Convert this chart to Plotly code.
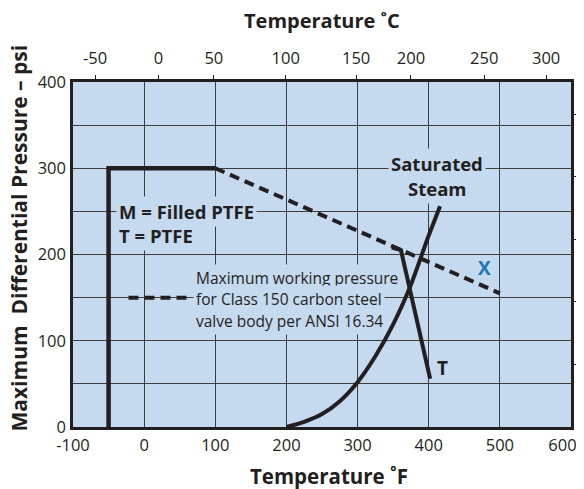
import plotly.graph_objects as go

# ---- data ----
temp_f_ticks = [-100, 0, 100, 200, 300, 400, 500, 600]
temp_f_labels = ["-100", "0", "100", "200", "300", "400", "500", "600\u00a0\u00a0\u00a0\u00a0"]
psi_ticks = [0, 100, 200, 300, 400]
c_tick_labels = ["-50", "0", "50", "100", "150", "200", "250", "300"]
c_tick_pos_f = [-69, 20, 98, 199, 298, 375, 478, 565]
bar_ticks = [5, 10, 15, 20, 25]

m_f = [-50, -50, 100]
m_psi = [0, 300, 300]
carbon_f = [100, 500]
carbon_psi = [300, 155]
t_f = [348, 361, 402]
t_psi = [208, 205, 56]
steam_f = [200, 225, 250, 275, 300, 325, 350, 375, 400, 416]
steam_psi = [0, 6, 15, 30, 52, 82, 119, 165, 222, 256]

INK = "#231f20"
BG = "#c5d9ef"
FONT = "Open Sans"
PSI_PER_BAR = 14.5038

fig = go.Figure()
fig.add_trace(go.Scatter(x=m_f, y=m_psi, mode="lines",
                         line=dict(color=INK, width=4.5), showlegend=False))
fig.add_trace(go.Scatter(x=carbon_f, y=carbon_psi, mode="lines",
                         line=dict(color=INK, width=4, dash="10px,6px"), showlegend=False))
fig.add_trace(go.Scatter(x=steam_f, y=steam_psi, mode="lines", line_shape="spline",
                         line=dict(color=INK, width=4, smoothing=0.6), showlegend=False))
fig.add_trace(go.Scatter(x=t_f, y=t_psi, mode="lines",
                         line=dict(color=INK, width=4), showlegend=False))
# invisible trace to bind secondary axes
fig.add_trace(go.Scatter(x=[0], y=[0], xaxis="x2", yaxis="y2", mode="markers",
                         marker=dict(opacity=0), showlegend=False, hoverinfo="skip"))

axis_common = dict(showline=True, linecolor=INK, linewidth=2.5, zeroline=False,
                   automargin=False)
TICKSIZE = 16.5
fig.update_layout(
    width=576, height=481,
    margin=dict(l=65, r=13, t=74, b=62),
    paper_bgcolor="white", plot_bgcolor=BG,
    font=dict(family=FONT, color=INK, size=15),
    xaxis=dict(range=[-100, 600], tickvals=temp_f_ticks, ticktext=temp_f_labels,
               ticks="", mirror=True, ticklabeloverflow="allow",
               showgrid=True, gridcolor="#3d3d3d", gridwidth=1,
               tickfont=dict(size=TICKSIZE), ticklabelstandoff=1, **axis_common),
    yaxis=dict(range=[0, 400], tickvals=psi_ticks, ticks="", mirror=True,
               ticklabeloverflow="allow",
               showgrid=True, gridcolor="#3d3d3d", gridwidth=1,
               minor=dict(dtick=50, showgrid=True, gridcolor="#3d3d3d", gridwidth=1),
               tickfont=dict(size=TICKSIZE), ticklabelstandoff=1, **axis_common),
    xaxis2=dict(overlaying="x", side="top", range=[-100, 600], tickvals=c_tick_pos_f,
                ticktext=c_tick_labels, ticks="outside", ticklen=6, tickwidth=1.2,
                tickcolor=INK, showgrid=False, zeroline=False, showline=False,
                ticklabeloverflow="allow",
                automargin=False, tickfont=dict(size=TICKSIZE), ticklabelstandoff=4),
    yaxis2=dict(overlaying="y", side="right", range=[0, 400 / PSI_PER_BAR],
                tickvals=bar_ticks, ticktext=[str(v) for v in bar_ticks],
                ticks="outside", ticklen=6, tickwidth=1.2, tickcolor=INK,
                showgrid=False, zeroline=False, showline=False, automargin=False,
                ticklabeloverflow="allow",
                tickfont=dict(size=TICKSIZE), ticklabelstandoff=2),
)

ann = []
# axis titles
ann.append(dict(text="<b>Temperature ˚F</b>", xref="paper", yref="paper", x=0.5, y=0,
                xshift=7, yshift=-49, showarrow=False, font=dict(size=20.5), yanchor="middle"))
ann.append(dict(text="<b>Temperature ˚C</b>", xref="paper", yref="paper", x=0.5, y=1,
                yshift=62, showarrow=False, font=dict(size=20), yanchor="middle"))
ann.append(dict(text="<b>Maximum  Differential Pressure – psi</b>", xref="paper", yref="paper",
                x=0, y=0.5, xshift=-55, yshift=16, textangle=-90, showarrow=False,
                font=dict(size=21), xanchor="center", yanchor="middle"))

def label(text, x, y, size, bold=True, anchor="center", color=INK, bg=True):
    t = f"<b>{text}</b>" if bold else text
    d = dict(text=t, x=x, y=y, xref="x", yref="y", showarrow=False,
             font=dict(size=size, color=color), xanchor=anchor, yanchor="middle")
    if bg:
        d.update(bgcolor=BG, borderpad=2)
    ann.append(d)

label("Saturated", 412, 306, 18.5)
label("Steam", 412, 277, 18.5)
label("M = Filled PTFE", -39, 250, 18.5, anchor="left")
label("T = PTFE", -39, 222, 18.5, anchor="left")
label("Maximum working pressure", 68, 173, 15.5, bold=False, anchor="left")
label("for Class 150 carbon steel", 68, 148, 15.5, bold=False, anchor="left")
label("valve body per ANSI 16.34", 68, 123, 15.5, bold=False, anchor="left")
label("X", 479, 184, 19, color="#1b75bc", bg=False)
label("T", 420, 68, 19, bg=False)
fig.update_layout(annotations=ann)

# legend key for the dashed carbon-steel line
fig.add_shape(type="line", xref="x", yref="y", x0=-22, x1=62, y0=150, y1=150,
              line=dict(color=INK, width=4, dash="10px,6px"))

fig.write_html("out.html")
